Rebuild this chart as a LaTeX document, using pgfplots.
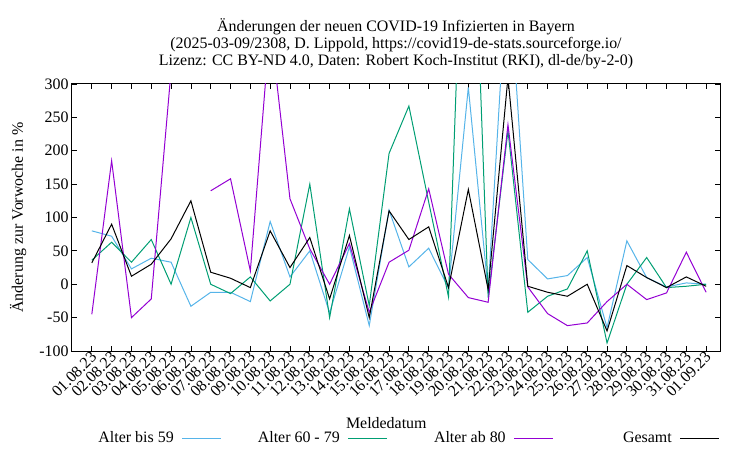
\documentclass[border=0pt]{standalone}
\usepackage{fontspec}
\setmainfont{Liberation Serif}
\usepackage{pgfplots}
\pgfplotsset{compat=1.18}
\usepackage{pgfplotstable}

\definecolor{gpblue}{HTML}{56B4E9}
\definecolor{gpgreen}{HTML}{009E73}
\definecolor{gppurple}{HTML}{9400D3}

% change against previous week, in percent; day 0 = 01.08.23
\pgfplotstableread{
day blue green purple black
0   80   36   -45   32
1   72   63   185   90
2   23   33   -50   12
3   39   67   -22   30
4   33   0    320   68
5   -33  100  nan   125
6   -12  0    140   18
7   -12  -14  158   9
8   -26  11   20    -5
9   94   -25  390   80
10  11   0    128   25
11  50   150  53    70
12  -43  -50  0     -22
13  56   113  61    73
14  -62  -32  -42   -50
15  111  196  33    110
16  26   267  51    67
17  54   123  143   86
18  -6   -19  15    -5
19  295  800  -20   142
20  -10  -20  -27   -8
21  490  230  239   310
22  37   -42  -4    -3
23  8    -18  -44   -12
24  13   -7   -62   -18
25  40   50   -58   0
26  -65  -88  -26   -70
27  65   0    0     28
28  10   40   -23   10
29  -4   -5   -13   -5
30  2    -3   48    11
31  0    0    -12   -3
}\data

\begin{document}
\begin{tikzpicture}
\path[use as bounding box] (-72bp,-99bp) rectangle (678bp,351bp);
\begin{axis}[
    at={(0,0)}, anchor=south west,
    scale only axis,
    width=648bp, height=267bp,
    xmin=-1, xmax=31.7,
    ymin=-100, ymax=300,
    ytick={-100,-50,...,300},
    xtick={0,...,31},
    xticklabels={01.08.23,02.08.23,03.08.23,04.08.23,05.08.23,06.08.23,07.08.23,08.08.23,09.08.23,10.08.23,11.08.23,12.08.23,13.08.23,14.08.23,15.08.23,16.08.23,17.08.23,18.08.23,19.08.23,20.08.23,21.08.23,22.08.23,23.08.23,24.08.23,25.08.23,26.08.23,27.08.23,28.08.23,29.08.23,30.08.23,31.08.23,01.09.23},
    font=\fontsize{16}{17}\selectfont,
    /pgf/number format/assume math mode=true,
    tick align=inside,
    major tick length=5bp,
    tick style={black, line width=0.8bp},
    axis line style={line width=1bp},
    xticklabel style={rotate=45, anchor=east, inner sep=1bp, yshift=-4bp},
    title={Änderungen der neuen COVID-19 Infizierten in Bayern\\(2025-03-09/2308, D. Lippold, https://covid19-de-stats.sourceforge.io/\\Lizenz: CC BY-ND 4.0, Daten: Robert Koch-Institut (RKI), dl-de/by-2-0)},
    title style={align=center, at={(axis description cs:0.5,1)}, anchor=south, yshift=6bp},
    xlabel={Meldedatum},
    xlabel style={at={(axis description cs:0.485,-0.27)}, anchor=center},
    ylabel={Änderung zur Vorwoche in \%},
    ylabel style={at={(axis description cs:-0.083,0.5)}, anchor=center},
    unbounded coords=jump,
    clip=true,
    legend plot pos=right,
    legend cell align=right,
    legend image code/.code={\draw[#1] (0bp,0bp) -- (39bp,0bp);},
    legend style={at={(axis description cs:0.515,-0.326)}, anchor=center,
        draw=none, fill=none, legend columns=4,
        /tikz/every odd column/.append style={column sep=6bp},
        /tikz/every even column/.append style={column sep=36bp}},
]
\addplot[gpblue, line width=1bp] table[x=day, y=blue] {\data};
\addlegendentry{\makebox[80bp][r]{Alter bis 59}}
\addplot[gpgreen, line width=1bp] table[x=day, y=green] {\data};
\addlegendentry{\makebox[80bp][r]{Alter 60 - 79}}
\addplot[gppurple, line width=1bp] table[x=day, y=purple] {\data};
\addlegendentry{\makebox[80bp][r]{Alter ab 80}}
\addplot[black, line width=1bp] table[x=day, y=black] {\data};
\addlegendentry{\makebox[80bp][r]{Gesamt}}
\end{axis}
\end{tikzpicture}
\end{document}
